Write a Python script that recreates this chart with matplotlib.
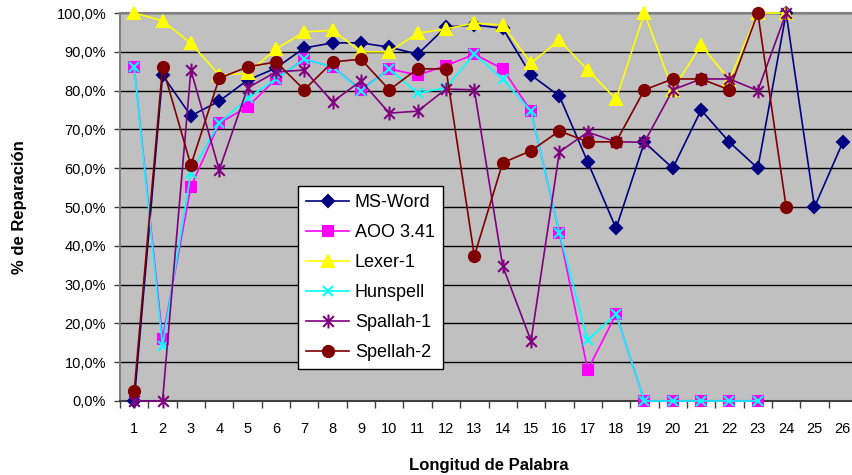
import matplotlib.pyplot as plt
from matplotlib.path import Path
from matplotlib.ticker import FixedLocator

plt.rcParams['font.family'] = ['Liberation Sans', 'DejaVu Sans']

longitud = list(range(1, 27))

ms_word = [0.0, 84.0, 73.5, 77.3, 82.7, 85.8, 91.0, 92.3, 92.3, 91.2, 89.4, 96.4, 96.9,
           96.1, 84.0, 78.6, 61.6, 44.5, 66.7, 60.0, 75.0, 66.7, 60.0, 100.0, 50.0, 66.7]
aoo_341 = [86.1, 16.0, 55.2, 71.6, 75.8, 83.0, 88.1, 86.1, 80.2, 85.6, 84.0, 86.4, 89.4,
           85.6, 74.7, 43.3, 8.0, 22.4, 0.0, 0.0, 0.0, 0.0, 0.0]
lexer_1 = [100.0, 98.0, 92.2, 84.0, 84.5, 90.7, 95.1, 95.6, 90.0, 90.0, 94.8, 95.9, 97.4,
           96.9, 87.1, 93.0, 85.3, 77.8, 100.0, 80.2, 91.8, 82.7, 100.0, 100.0]
hunspell = [86.1, 14.2, 58.8, 71.6, 78.0, 83.0, 88.1, 86.1, 80.0, 85.6, 79.3, 80.8, 89.4,
            83.0, 74.7, 43.3, 15.7, 22.4, 0.0, 0.0, 0.0, 0.0, 0.0]
spallah_1 = [0.0, 0.0, 85.3, 59.5, 80.7, 84.8, 85.3, 77.1, 82.5, 74.2, 74.7, 80.4, 80.2,
             34.8, 15.5, 64.2, 69.3, 66.8, 66.7, 80.2, 83.0, 83.0, 80.0, 100.0]
spellah_2 = [2.5, 86.1, 60.8, 83.2, 86.1, 87.4, 80.2, 87.4, 88.1, 80.2, 85.6, 85.6, 37.4,
             61.4, 64.5, 69.6, 66.8, 66.8, 80.2, 83.0, 83.0, 80.2, 100.0, 50.0]

# asterisco de seis brazos (x + linea vertical)
asterisco = Path([(-1, -1), (1, 1), (-1, 1), (1, -1), (0, -1.3), (0, 1.3)],
                 [Path.MOVETO, Path.LINETO, Path.MOVETO, Path.LINETO, Path.MOVETO, Path.LINETO])

series = [
    ("MS-Word", ms_word, "#000080", "D", 6.5),
    ("AOO 3.41", aoo_341, "#FF00FF", "s", 6.5),
    ("Lexer-1", lexer_1, "#FFFF00", "^", 9),
    ("Hunspell", hunspell, "#00FFFF", "x", 7.5),
    ("Spallah-1", spallah_1, "#800080", asterisco, 10),
    ("Spellah-2", spellah_2, "#800000", "o", 8),
]

fig = plt.figure(figsize=(8.53, 4.75), dpi=100)
ax = fig.add_axes([0.1407, 0.1558, 0.8640, 0.8168])
ax.set_facecolor("#C0C0C0")

for nombre, valores, color, marca, tam in series:
    x = longitud[:len(valores)]
    ax.plot(x, valores, color=color, lw=1.2, marker=marca, markersize=tam,
            markerfacecolor=color, markeredgecolor=color, markeredgewidth=1.5,
            label=nombre, clip_on=False, zorder=3)

ax.set_xlim(0.5, 26.5)
ax.set_ylim(0, 100)

ax.set_yticks(range(0, 101, 10))
ax.set_yticklabels([f"{v},0%" for v in range(0, 101, 10)])
ax.yaxis.grid(True, color="black", lw=1)
ax.set_axisbelow(True)

ax.set_xticks(longitud)
ax.set_xticklabels([str(v) for v in longitud])
ax.xaxis.set_minor_locator(FixedLocator([v + 0.5 for v in range(0, 27)]))
ax.tick_params(axis="x", which="major", length=0, labelsize=10.5, pad=15)
ax.tick_params(axis="x", which="minor", length=5, width=1, color="#404040")
ax.tick_params(axis="y", length=4, width=1, labelsize=10.5, pad=6, color="#404040")

for lado in ("left", "top"):
    ax.spines[lado].set_color("#808080")
    ax.spines[lado].set_linewidth(1.5)
ax.spines["bottom"].set_color("#404040")
ax.spines["bottom"].set_linewidth(1.5)
ax.spines["right"].set_visible(False)

ax.set_xlabel("Longitud de Palabra", fontsize=12, fontweight="bold", labelpad=16)
ax.set_ylabel("% de Reparación", fontsize=12, fontweight="bold", labelpad=21)

leg = ax.legend(loc="upper left", bbox_to_anchor=(0.2415, 0.554), borderaxespad=0,
                fontsize=13, frameon=True, fancybox=False, framealpha=1,
                edgecolor="black", handlelength=2.4, handletextpad=0.3,
                labelspacing=0.72, borderpad=0.45)
leg.get_frame().set_linewidth(1)
leg.set_zorder(5)

fig.savefig("out.png", dpi=100)
